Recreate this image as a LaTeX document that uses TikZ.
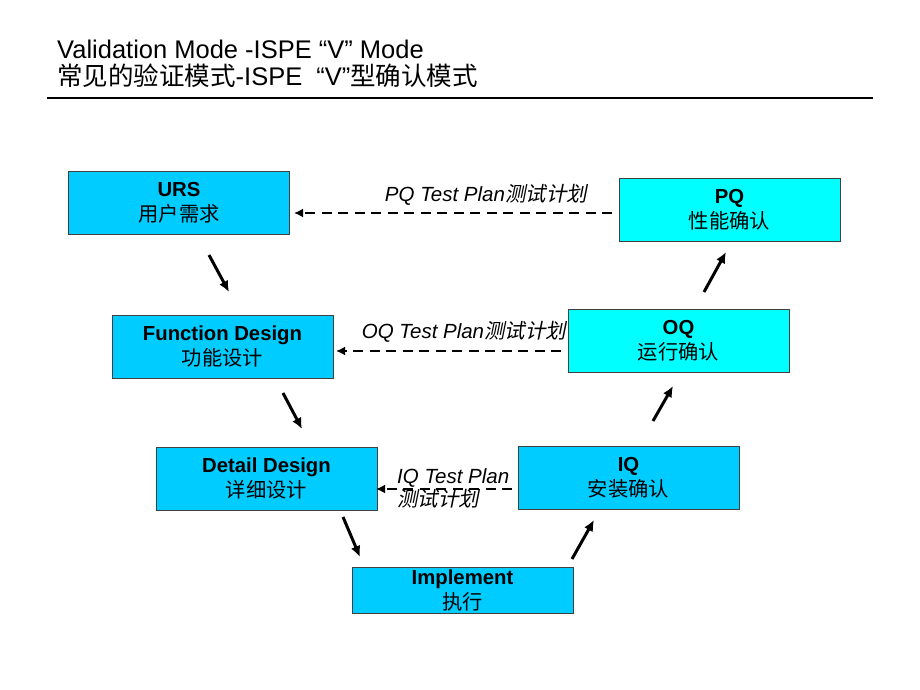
\documentclass[tikz,border=0pt]{standalone}
\usepackage{fontspec}
\setmainfont{Liberation Sans}
\newfontfamily\cjk{Noto Sans CJK SC}
\newfontfamily\cjkit[FakeSlant=0.2]{Noto Sans CJK SC}
\usetikzlibrary{arrows.meta}
\definecolor{leftblue}{HTML}{00CCFF}
\definecolor{rightcyan}{HTML}{00FFFF}
\begin{document}
\begin{tikzpicture}[x=1pt,y=-1pt,
  box/.style={draw=black!75, line width=1pt, minimum width=221pt, minimum height=63pt,
    inner sep=0pt, align=center, font=\fontsize{20.3}{25}\selectfont},
  lbox/.style={box, fill=leftblue},
  rbox/.style={box, fill=rightcyan},
  vflow/.style={line width=3pt, -{Latex[length=11pt,width=10pt]}},
  testplan/.style={line width=2.8pt, dash pattern=on 10pt off 6.5pt, -{Latex[length=9pt,width=9pt]}},
  plantext/.style={font=\fontsize{20.5}{23}\selectfont\itshape, inner sep=0pt},
  titletext/.style={font=\fontsize{25.5}{27.5}\selectfont, anchor=west, align=left, inner sep=0pt}
]
\useasboundingbox (0,0) rectangle (920,690);

% title
\node[titletext] (title) at (57,64) {Validation Mode -ISPE “V” Mode\\{\cjk 常见的验证模式}-ISPE \ “V”{\cjk 型确认模式}};
\coordinate (r1) at (47,98);
\coordinate (r2) at (873,98);
\draw[line width=2pt] (r1) -- (r2);

% boxes
\node[lbox] (urs) at (179,203) {{\bfseries URS}\\{\cjk 用户需求}};
\node[lbox] (fd) at (222.5,346.5) {{\bfseries Function Design}\\{\cjk 功能设计}};
\node[lbox] (dd) at (266.5,478.5) {{\bfseries Detail Design}\\{\cjk 详细设计}};
\node[lbox, minimum height=46pt] (impl) at (462.5,590) {{\bfseries Implement}\\{\cjk 执行}};
\node[lbox] (iq) at (628.5,478) {{\bfseries IQ}\\{\cjk 安装确认}};
\node[rbox] (oq) at (678.5,340.5) {{\bfseries OQ}\\{\cjk 运行确认}};
\node[rbox] (pq) at (729.5,210) {{\bfseries PQ}\\{\cjk 性能确认}};

% V arrows
\coordinate (a1s) at (209,255); \coordinate (a1e) at (229,292);
\coordinate (a2s) at (283,393); \coordinate (a2e) at (302,429);
\coordinate (a3s) at (343,517); \coordinate (a3e) at (360,557);
\coordinate (a4s) at (572,559); \coordinate (a4e) at (594,520);
\coordinate (a5s) at (653,421); \coordinate (a5e) at (673,386);
\coordinate (a6s) at (704,292); \coordinate (a6e) at (726,252);
\draw[vflow] (a1s) -- (a1e);
\draw[vflow] (a2s) -- (a2e);
\draw[vflow] (a3s) -- (a3e);
\draw[vflow] (a4s) -- (a4e);
\draw[vflow] (a5s) -- (a5e);
\draw[vflow] (a6s) -- (a6e);

% test plan arrows
\coordinate (p1) at (612,213); \coordinate (p2) at (294,213);
\draw[testplan] (p1) -- (p2);
\node[plantext] (pql) at (486,195) {PQ Test Plan{\cjkit 测试计划}};

\coordinate (o1) at (561,351); \coordinate (o2) at (336,351);
\draw[testplan] (o1) -- (o2);
\node[plantext] (oql) at (464,332) {OQ Test Plan{\cjkit 测试计划}};

\coordinate (i1) at (512,489); \coordinate (i2) at (376,489);
\draw[testplan] (i1) -- (i2);
\node[plantext, anchor=west, align=left] (iql) at (397,488) {IQ Test Plan\\{\cjkit 测试计划}};
\end{tikzpicture}
\end{document}
